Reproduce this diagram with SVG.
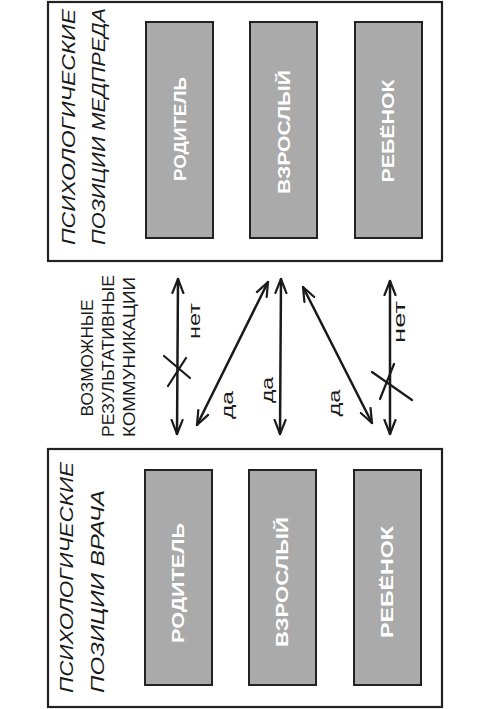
<svg xmlns="http://www.w3.org/2000/svg" width="491" height="709" viewBox="0 0 491 709">
<defs>
<style>
.panel{fill:#fff;stroke:#222;stroke-width:2.2}
.box{fill:#aaa;stroke:#222;stroke-width:2}
.title{font-family:"Liberation Sans",Arial,sans-serif;font-size:18px;fill:#1a1a1a;font-style:italic}
.lbl{font-family:"Liberation Sans",Arial,sans-serif;font-size:17px;fill:#fff;font-weight:bold}
.mid{font-family:"Liberation Sans",Arial,sans-serif;font-size:17px;fill:#1a1a1a}
.hand{font-family:"Liberation Sans",Arial,sans-serif;font-size:16px;fill:#1a1a1a}
.arr{fill:none;stroke:#1a1a1a;stroke-width:2.5;stroke-linecap:round;marker-start:url(#ah);marker-end:url(#ah)}
.x{fill:none;stroke:#1a1a1a;stroke-width:2.2;stroke-linecap:round}
</style>
<marker id="ah" viewBox="0 0 16 14" refX="15" refY="7" markerWidth="16" markerHeight="14" markerUnits="userSpaceOnUse" orient="auto-start-reverse">
<path d="M1,1.5 L15,7 L1,12.5" fill="none" stroke="#1a1a1a" stroke-width="2.2" stroke-linecap="round" stroke-linejoin="round"/>
</marker>
</defs>
<rect width="491" height="709" fill="#fff"/>

<g id="panel-medpred">
<rect class="panel" x="48" y="2" width="394" height="259"/>
<text class="title" transform="translate(75,245) rotate(-90)" textLength="236" lengthAdjust="spacingAndGlyphs">ПСИХОЛОГИЧЕСКИЕ</text>
<text class="title" transform="translate(105,245) rotate(-90)" textLength="237" lengthAdjust="spacingAndGlyphs">ПОЗИЦИИ МЕДПРЕДА</text>
</g>
<g id="medpred-parent">
<rect class="box" x="146" y="22" width="67" height="216"/>
<text class="lbl" text-anchor="middle" transform="translate(186,129) rotate(-90)" textLength="104" lengthAdjust="spacingAndGlyphs">РОДИТЕЛЬ</text>
</g>
<g id="medpred-adult">
<rect class="box" x="250" y="22" width="67" height="216"/>
<text class="lbl" text-anchor="middle" transform="translate(290,132) rotate(-90)" textLength="124" lengthAdjust="spacingAndGlyphs">ВЗРОСЛЫЙ</text>
</g>
<g id="medpred-child">
<rect class="box" x="355" y="22" width="67" height="216"/>
<text class="lbl" text-anchor="middle" transform="translate(394,131) rotate(-90)" textLength="103" lengthAdjust="spacingAndGlyphs">РЕБЁНОК</text>
</g>

<g id="panel-doctor">
<rect class="panel" x="48" y="449" width="394" height="258"/>
<text class="title" transform="translate(73,693) rotate(-90)" textLength="231" lengthAdjust="spacingAndGlyphs">ПСИХОЛОГИЧЕСКИЕ</text>
<text class="title" transform="translate(104,693) rotate(-90)" textLength="203" lengthAdjust="spacingAndGlyphs">ПОЗИЦИИ ВРАЧА</text>
</g>
<g id="doctor-parent">
<rect class="box" x="145" y="470" width="67" height="215"/>
<text class="lbl" text-anchor="middle" transform="translate(184,583) rotate(-90)" textLength="120" lengthAdjust="spacingAndGlyphs">РОДИТЕЛЬ</text>
</g>
<g id="doctor-adult">
<rect class="box" x="249" y="470" width="67" height="215"/>
<text class="lbl" text-anchor="middle" transform="translate(288,582) rotate(-90)" textLength="130" lengthAdjust="spacingAndGlyphs">ВЗРОСЛЫЙ</text>
</g>
<g id="doctor-child">
<rect class="box" x="354" y="470" width="67" height="215"/>
<text class="lbl" text-anchor="middle" transform="translate(393,582) rotate(-90)" textLength="112" lengthAdjust="spacingAndGlyphs">РЕБЁНОК</text>
</g>

<g id="caption">
<text class="mid" text-anchor="middle" transform="translate(93,358) rotate(-90)" textLength="117" lengthAdjust="spacingAndGlyphs">ВОЗМОЖНЫЕ</text>
<text class="mid" text-anchor="middle" transform="translate(114,356) rotate(-90)" textLength="162" lengthAdjust="spacingAndGlyphs">РЕЗУЛЬТАТИВНЫЕ</text>
<text class="mid" text-anchor="middle" transform="translate(135,357) rotate(-90)" textLength="160" lengthAdjust="spacingAndGlyphs">КОММУНИКАЦИИ</text>
</g>

<g id="connectors">
<path class="arr" d="M178,279 L177,434"/>
<path class="x" d="M164,356 L190,378 M168,386 L186,358"/>
<text class="hand" text-anchor="middle" transform="translate(200,321) rotate(-90)" textLength="36" lengthAdjust="spacingAndGlyphs">нет</text>

<path class="arr" d="M268,282 L197,425"/>
<text class="hand" text-anchor="middle" transform="translate(233,405) rotate(-90)" textLength="28" lengthAdjust="spacingAndGlyphs">да</text>

<path class="arr" d="M281,279 L280,434"/>
<text class="hand" text-anchor="middle" transform="translate(273,390) rotate(-90)" textLength="26" lengthAdjust="spacingAndGlyphs">да</text>

<path class="arr" d="M303,287 L372,423"/>
<text class="hand" text-anchor="middle" transform="translate(340,403) rotate(-90)" textLength="27" lengthAdjust="spacingAndGlyphs">да</text>

<path class="arr" d="M390,281 L390,434"/>
<path class="x" d="M372,372 L412,400 M380,399 L394,364"/>
<text class="hand" text-anchor="middle" transform="translate(405,322) rotate(-90)" textLength="42" lengthAdjust="spacingAndGlyphs">нет</text>
</g>
</svg>
